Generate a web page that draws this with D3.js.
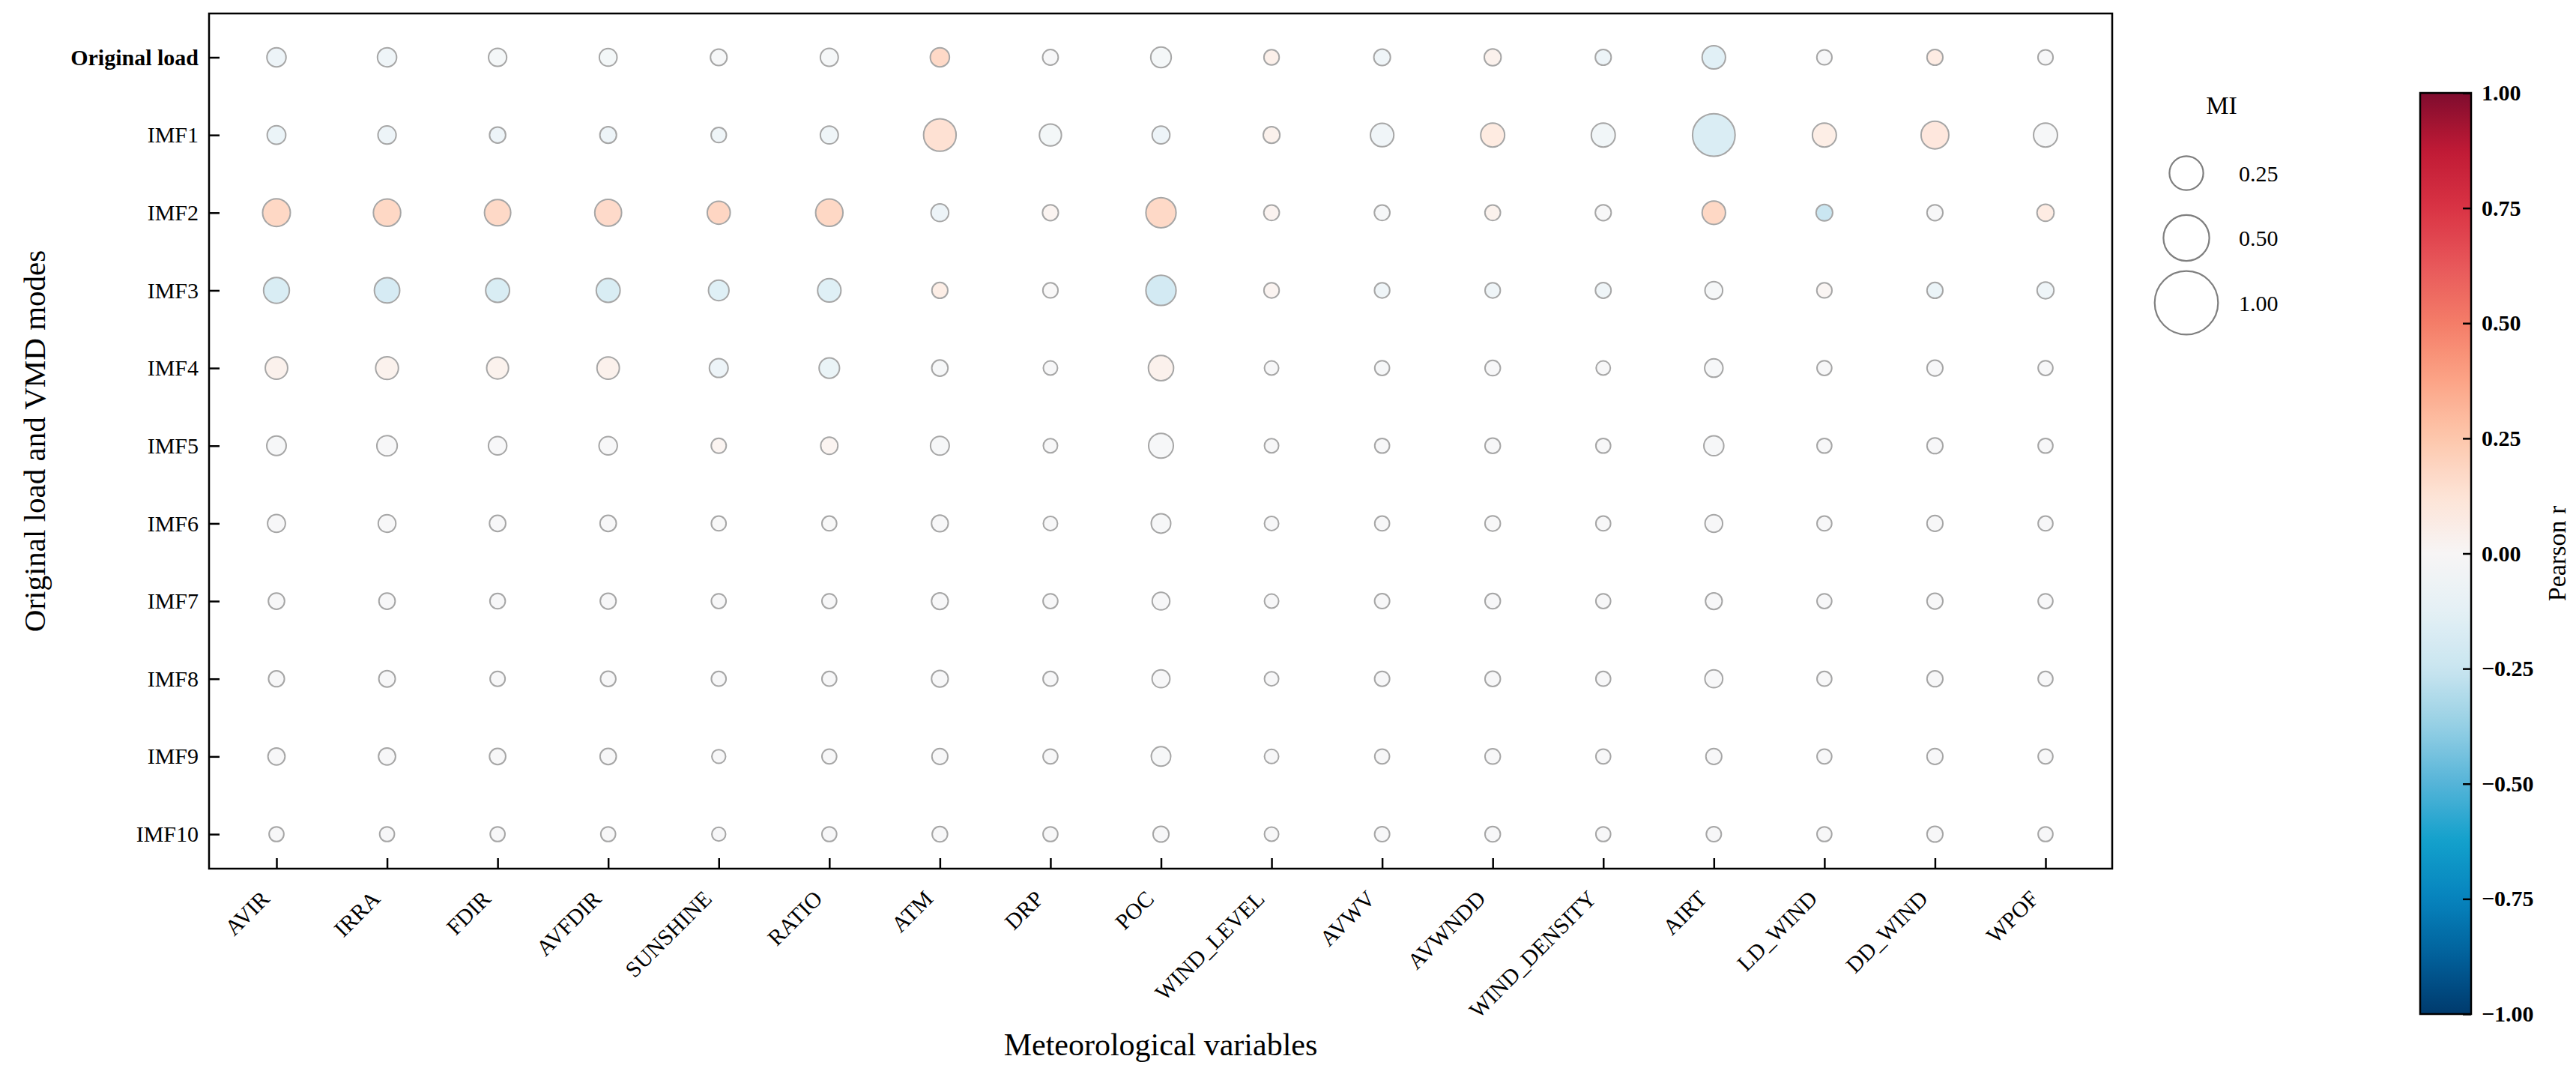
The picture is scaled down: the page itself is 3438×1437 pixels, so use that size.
<!DOCTYPE html>
<html>
<head>
<meta charset="utf-8">
<script src="https://cdn.jsdelivr.net/npm/d3@7"></script>
<style>
  body { margin: 0; background: #fff; }
  text { font-family: "Liberation Serif", "Times New Roman", serif; fill: #000; }
</style>
</head>
<body>
<div id="graphic"></div>
<script>
// meteorological variables (columns) and decomposition modes (rows)
var variables = ["AVIR", "IRRA", "FDIR", "AVFDIR", "SUNSHINE", "RATIO", "ATM", "DRP", "POC",
  "WIND_LEVEL", "AVWV", "AVWNDD", "WIND_DENSITY", "AIRT", "LD_WIND", "DD_WIND", "WPOF"];
var modes = ["Original load", "IMF1", "IMF2", "IMF3", "IMF4", "IMF5", "IMF6", "IMF7", "IMF8", "IMF9", "IMF10"];

var miValues = [
  [0.046, 0.046, 0.036, 0.032, 0.022, 0.034, 0.046, 0.014, 0.060, 0.011, 0.022, 0.024, 0.016, 0.093, 0.010, 0.016, 0.010],
  [0.040, 0.036, 0.018, 0.022, 0.011, 0.034, 0.227, 0.077, 0.032, 0.022, 0.093, 0.100, 0.100, 0.424, 0.100, 0.151, 0.100],
  [0.151, 0.145, 0.130, 0.138, 0.088, 0.145, 0.032, 0.016, 0.188, 0.013, 0.013, 0.013, 0.016, 0.093, 0.022, 0.016, 0.026],
  [0.124, 0.118, 0.099, 0.099, 0.060, 0.093, 0.016, 0.010, 0.188, 0.011, 0.011, 0.011, 0.014, 0.032, 0.010, 0.016, 0.024],
  [0.081, 0.086, 0.075, 0.081, 0.042, 0.059, 0.019, 0.003, 0.116, 0.003, 0.007, 0.012, 0.003, 0.038, 0.007, 0.016, 0.007],
  [0.049, 0.059, 0.038, 0.038, 0.009, 0.027, 0.042, 0.003, 0.110, 0.003, 0.007, 0.012, 0.007, 0.054, 0.007, 0.016, 0.007],
  [0.033, 0.031, 0.019, 0.019, 0.007, 0.007, 0.023, 0.003, 0.049, 0.003, 0.007, 0.012, 0.007, 0.031, 0.007, 0.016, 0.007],
  [0.019, 0.019, 0.012, 0.016, 0.007, 0.007, 0.023, 0.007, 0.031, 0.003, 0.009, 0.012, 0.007, 0.023, 0.007, 0.016, 0.007],
  [0.016, 0.021, 0.009, 0.012, 0.007, 0.007, 0.023, 0.007, 0.033, 0.003, 0.009, 0.012, 0.007, 0.033, 0.007, 0.016, 0.007],
  [0.026, 0.026, 0.019, 0.019, 0.000, 0.007, 0.016, 0.007, 0.049, 0.003, 0.007, 0.012, 0.007, 0.016, 0.007, 0.016, 0.007],
  [0.007, 0.007, 0.007, 0.007, 0.000, 0.007, 0.012, 0.007, 0.016, 0.003, 0.009, 0.012, 0.007, 0.009, 0.007, 0.016, 0.007]
];

var pearsonR = [
  [-0.12, -0.10, -0.05, -0.06, -0.03, -0.04, 0.24, -0.02, -0.05, 0.08, -0.10, 0.07, -0.12, -0.20, -0.02, 0.12, -0.02],
  [-0.13, -0.12, -0.12, -0.12, -0.10, -0.10, 0.19, -0.06, -0.12, 0.07, -0.09, 0.13, -0.08, -0.24, 0.10, 0.15, -0.03],
  [0.25, 0.25, 0.24, 0.23, 0.26, 0.25, -0.12, 0.04, 0.24, 0.05, -0.03, 0.06, -0.02, 0.25, -0.30, -0.02, 0.12],
  [-0.25, -0.26, -0.25, -0.25, -0.21, -0.21, 0.10, 0.00, -0.27, 0.04, -0.10, -0.10, -0.10, -0.04, 0.03, -0.13, -0.10],
  [0.07, 0.06, 0.06, 0.07, -0.12, -0.14, -0.03, -0.02, 0.07, -0.02, -0.03, -0.02, -0.02, -0.03, -0.02, -0.02, -0.02],
  [-0.03, -0.02, -0.02, -0.02, 0.04, 0.04, -0.03, -0.02, -0.03, -0.02, -0.02, -0.02, -0.02, -0.03, -0.02, -0.02, -0.02],
  [-0.02, -0.02, -0.02, -0.02, -0.01, -0.01, -0.02, -0.02, -0.03, -0.02, -0.02, -0.02, -0.02, -0.02, -0.02, -0.02, -0.02],
  [-0.02, -0.02, -0.02, -0.02, -0.02, -0.02, -0.02, -0.02, -0.02, -0.02, -0.02, -0.02, -0.02, -0.02, -0.02, -0.02, -0.02],
  [-0.02, -0.02, -0.02, -0.02, -0.02, -0.02, -0.02, -0.02, -0.02, -0.02, -0.02, -0.02, -0.02, -0.02, -0.02, -0.02, -0.02],
  [-0.02, -0.02, -0.02, -0.02, -0.02, -0.02, -0.02, -0.02, -0.03, -0.02, -0.02, -0.02, -0.02, -0.02, -0.02, -0.02, -0.02],
  [-0.02, -0.02, -0.02, -0.02, -0.02, -0.02, -0.02, -0.02, -0.02, -0.02, -0.02, -0.02, -0.02, -0.02, -0.02, -0.02, -0.02]
];

var miLegend = [0.25, 0.50, 1.00];
var cbarTicks = [1.00, 0.75, 0.50, 0.25, 0.00, -0.25, -0.50, -0.75, -1.00];

// diverging colormap as seen on the colour bar
var cmapStops = [-1, -0.875, -0.75, -0.625, -0.5, -0.375, -0.25, -0.125, 0, 0.125, 0.25, 0.375, 0.5, 0.625, 0.75, 0.875, 1];
var cmapColors = ["#003a6d", "#01609a", "#0683bd", "#12a0cc", "#55b4d8", "#95cfe4", "#c9e5f0", "#e4f0f5", "#f7f5f5",
  "#fde3d6", "#fdc7ac", "#fca486", "#f47d68", "#e8575a", "#d93344", "#c01a35", "#7f0c2e"];

var W = 3438, H = 1437;
var frame = {left: 279, top: 18, right: 2819, bottom: 1159};

var svg = d3.select("#graphic").append("svg")
    .attr("width", W)
    .attr("height", H);

svg.append("rect").attr("width", W).attr("height", H).attr("fill", "#fff");

var x = d3.scalePoint().domain(variables).range([369, 2730]);
var y = d3.scalePoint().domain(modes).range([76.5, 1113]);

// circle area grows linearly with MI
var area = d3.scaleLinear().domain([0, 1]).range([85, 1789]);
var radius = function (mi) { return Math.sqrt(area(mi)); };

var color = d3.scaleLinear()
    .domain(cmapStops)
    .range(cmapColors)
    .interpolate(d3.interpolateRgb)
    .clamp(true);

var cells = [];
modes.forEach(function (m, i) {
  variables.forEach(function (v, j) {
    cells.push({mode: m, variable: v, mi: miValues[i][j], r: pearsonR[i][j]});
  });
});

// bubbles
svg.append("g").selectAll("circle")
    .data(cells)
    .enter()
    .append("circle")
    .attr("cx", d => x(d.variable))
    .attr("cy", d => y(d.mode))
    .attr("r", d => radius(d.mi))
    .attr("fill", d => color(d.r))
    .attr("fill-opacity", 0.7)
    .attr("stroke", "#a6a6a6")
    .attr("stroke-width", 2);

// x axis, ticks pointing inward, labels at 45 degrees
var gx = svg.append("g")
    .attr("transform", "translate(0," + frame.bottom + ")")
    .call(d3.axisBottom(x).tickSizeInner(-14).tickSizeOuter(0));
gx.attr("font-family", null).attr("font-size", null);
gx.select(".domain").remove();
gx.selectAll("line").attr("stroke", "#000").attr("stroke-width", 2.5);
gx.selectAll("text")
    .attr("y", 0)
    .attr("dy", 0)
    .attr("text-anchor", "end")
    .attr("transform", "translate(-8,42) rotate(-45)")
    .style("font-size", "30px");

// y axis
var gy = svg.append("g")
    .attr("transform", "translate(" + frame.left + ",0)")
    .call(d3.axisLeft(y).tickSizeInner(-14).tickSizeOuter(0).tickPadding(14));
gy.attr("font-family", null).attr("font-size", null);
gy.select(".domain").remove();
gy.selectAll("line").attr("stroke", "#000").attr("stroke-width", 2.5);
gy.selectAll("text")
    .style("font-size", "30px")
    .style("font-weight", d => d === "Original load" ? "bold" : "normal");

// plot frame
svg.append("rect")
    .attr("x", frame.left)
    .attr("y", frame.top)
    .attr("width", frame.right - frame.left)
    .attr("height", frame.bottom - frame.top)
    .attr("fill", "none")
    .attr("stroke", "#000")
    .attr("stroke-width", 2.5);

// axis titles
svg.append("text")
    .attr("x", (frame.left + frame.right) / 2)
    .attr("y", 1408)
    .attr("text-anchor", "middle")
    .style("font-size", "42px")
    .text("Meteorological variables");

svg.append("text")
    .attr("transform", "translate(60," + (frame.top + frame.bottom) / 2 + ") rotate(-90)")
    .attr("text-anchor", "middle")
    .style("font-size", "41px")
    .text("Original load and VMD modes");

// MI size legend
var legY = d3.scalePoint().domain(miLegend).range([231, 404]);
var leg = svg.append("g");
leg.append("text")
    .attr("x", 2965)
    .attr("y", 152)
    .attr("text-anchor", "middle")
    .style("font-size", "34px")
    .text("MI");
leg.selectAll("circle")
    .data(miLegend)
    .enter()
    .append("circle")
    .attr("cx", 2918)
    .attr("cy", d => legY(d))
    .attr("r", d => radius(d))
    .attr("fill", "none")
    .attr("stroke", "#7f7f7f")
    .attr("stroke-width", 2.2);
leg.selectAll(".lab")
    .data(miLegend)
    .enter()
    .append("text")
    .attr("class", "lab")
    .attr("x", 2988)
    .attr("y", d => legY(d))
    .attr("dy", "0.35em")
    .style("font-size", "30px")
    .text(d => d3.format(".2f")(d));

// colour bar
var cb = {x: 3230, w: 68, top: 124, bottom: 1353};
var cbScale = d3.scaleLinear().domain([-1, 1]).range([cb.bottom, cb.top]);

var grad = svg.append("defs").append("linearGradient")
    .attr("id", "cbar")
    .attr("x1", 0).attr("y1", 1).attr("x2", 0).attr("y2", 0);
grad.selectAll("stop")
    .data(d3.range(0, 101).map(i => -1 + i * 0.02))
    .enter()
    .append("stop")
    .attr("offset", d => ((d + 1) / 2 * 100) + "%")
    .attr("stop-color", d => color(d));

svg.append("rect")
    .attr("x", cb.x)
    .attr("y", cb.top)
    .attr("width", cb.w)
    .attr("height", cb.bottom - cb.top)
    .attr("fill", "url(#cbar)")
    .attr("stroke", "#000")
    .attr("stroke-width", 2.5);

var gc = svg.append("g")
    .attr("transform", "translate(" + (cb.x + cb.w) + ",0)")
    .call(d3.axisRight(cbScale).tickValues(cbarTicks).tickSizeInner(-11).tickSizeOuter(0)
      .tickPadding(14).tickFormat(d3.format(".2f")));
gc.attr("font-family", null).attr("font-size", null);
gc.select(".domain").remove();
gc.selectAll("line").attr("stroke", "#000").attr("stroke-width", 2.5);
gc.selectAll("text")
    .style("font-size", "30px")
    .style("font-weight", "bold");

svg.append("text")
    .attr("transform", "translate(3424," + (cb.top + cb.bottom) / 2 + ") rotate(-90)")
    .attr("text-anchor", "middle")
    .style("font-size", "34px")
    .text("Pearson r");
</script>
</body>
</html>
